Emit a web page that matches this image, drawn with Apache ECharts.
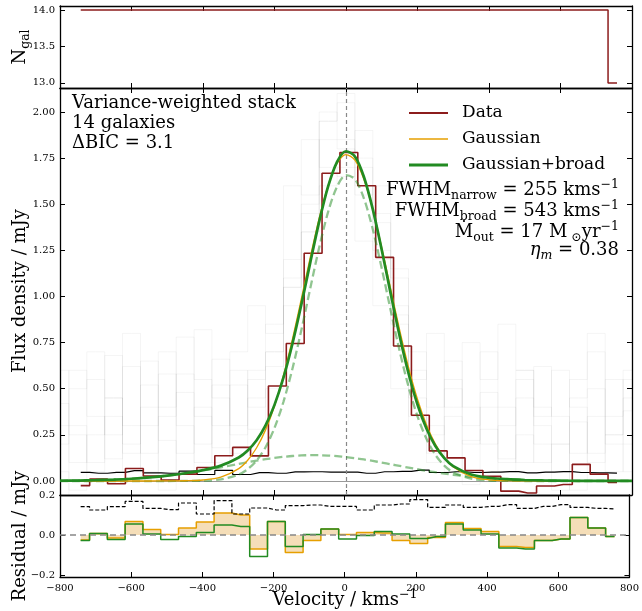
<!DOCTYPE html>
<html><head><meta charset="utf-8">
<script src="https://cdn.jsdelivr.net/npm/echarts@6/dist/echarts.min.js"></script>
<style>html,body{margin:0;padding:0;background:#fff}#c{width:642px;height:611px}</style>
</head><body><div id="c"></div><script>
// ---- data ----
const velocity = [-742,-692,-642,-592,-542,-492,-442,-392,-342,-292,-242,-192,-142,-92,-42,8,58,108,158,208,258,308,358,408,458,508,558,608,658,708,758];
const nGal = [14,14,14,14,14,14,14,14,14,14,14,14,14,14,14,14,14,14,14,14,14,14,14,14,14,14,14,14,14,14,13];
const flux = [-0.025,0.01,-0.015,0.068,0.027,0.005,0.037,0.073,0.137,0.182,0.136,0.515,0.745,1.234,1.668,1.78,1.60,1.212,0.732,0.356,0.163,0.125,0.057,0.025,-0.055,-0.065,-0.027,-0.019,0.09,0.037,-0.008];
const noise = [0.047,0.042,0.047,0.056,0.044,0.042,0.053,0.035,0.057,0.035,0.045,0.042,0.049,0.05,0.048,0.048,0.042,0.05,0.052,0.059,0.046,0.05,0.046,0.048,0.051,0.044,0.048,0.051,0.046,0.044,0.043];
const residErr = [0.142,0.125,0.142,0.168,0.133,0.127,0.16,0.105,0.172,0.105,0.135,0.125,0.147,0.15,0.143,0.143,0.125,0.15,0.155,0.177,0.138,0.15,0.138,0.143,0.152,0.133,0.143,0.152,0.138,0.133,0.13];
const residGauss = [-0.025,0.008,-0.015,0.068,0.027,0.002,0.035,0.065,0.11,0.10,-0.07,0.067,-0.087,-0.028,0.03,0.002,0.013,0.01,-0.028,-0.042,-0.012,0.063,0.033,0.018,-0.058,-0.062,-0.028,-0.02,0.088,0.035,-0.008];
const residBroad = [-0.028,0.008,-0.023,0.055,0.005,-0.023,-0.007,0.013,0.05,0.042,-0.107,0.067,-0.058,0.002,0.03,-0.02,-0.003,0.018,0.005,-0.017,-0.007,0.055,0.025,0.005,-0.065,-0.07,-0.028,-0.02,0.088,0.035,-0.008];

const modelVel = [-800,-750,-700,-650,-600,-550,-500,-450,-400,-350,-300,-275,-250,-225,-200,-175,-150,-125,-100,-75,-50,-25,0,25,50,75,100,125,150,175,200,225,250,275,300,350,400,450,500,550,600,650,700,750,800];
const gaussModel = [0,0,0,0,0,0,0.0002,0.0012,0.0054,0.0207,0.0669,0.1123,0.1803,0.277,0.4068,0.5715,0.7677,0.9865,1.2121,1.4247,1.6011,1.7211,1.7694,1.7397,1.6358,1.4711,1.2652,1.0408,0.8186,0.616,0.4432,0.305,0.2007,0.1264,0.0761,0.0241,0.0064,0.0014,0.0002,0,0,0,0,0,0];
const narrowModel = [0,0,0,0,0,0,0,0.0003,0.0018,0.0088,0.0347,0.0636,0.1107,0.1831,0.2875,0.4288,0.6072,0.8169,1.0435,1.2659,1.4583,1.5954,1.6575,1.6354,1.5323,1.3635,1.1522,0.9246,0.7047,0.51,0.3506,0.2288,0.1418,0.0835,0.0467,0.0125,0.0027,0.0005,0,0,0,0,0,0,0];
const broadModel = [0.0012,0.0024,0.0043,0.0074,0.0122,0.0193,0.029,0.0416,0.0569,0.0743,0.0926,0.1016,0.1101,0.118,0.125,0.1308,0.1354,0.1384,0.1399,0.1397,0.1379,0.1346,0.1298,0.1237,0.1165,0.1085,0.0998,0.0908,0.0816,0.0725,0.0637,0.0552,0.0474,0.0402,0.0337,0.0228,0.0148,0.0091,0.0054,0.003,0.0016,0.0008,0.0004,0.0002,0.0001];
const totalModel = [0.0012,0.0024,0.0043,0.0074,0.0122,0.0193,0.029,0.0419,0.0587,0.0831,0.1273,0.1652,0.2208,0.3011,0.4125,0.5596,0.7426,0.9553,1.1834,1.4056,1.5962,1.73,1.7873,1.7591,1.6488,1.472,1.252,1.0154,0.7863,0.5825,0.4143,0.284,0.1892,0.1237,0.0804,0.0353,0.0175,0.0096,0.0054,0.003,0.0016,0.0008,0.0004,0.0002,0.0001];

// faint individual spectra (estimated)
const specVel = [-800,-750,-700,-650,-600,-550,-500,-450,-400,-350,-300,-250,-200,-150,-100,-50,0,50,100,150,200,250,300,350,400,450,500,550,600,650,700,750,800];
const spec1 = [0.42,0.10,0.55,0.25,0.62,0.05,0.35,0.48,0.20,0.66,0.30,0.45,0.85,1.05,1.50,1.95,2.05,1.70,1.40,1.10,0.60,0.40,0.55,0.20,0.48,0.12,0.60,0.30,0.05,0.45,0.70,0.25,0.38];
const spec2 = [-0.10,0.30,0.05,0.68,0.15,0.40,-0.05,0.58,0.35,0.10,0.52,0.28,0.70,1.05,1.35,1.85,1.80,1.60,1.20,0.90,0.45,0.10,0.35,-0.02,0.28,0.10,0.45,0.20,-0.05,0.32,0.10,0.55,0.05];
const spec3 = [0.20,0.60,0.35,0.12,0.80,0.30,0.70,0.15,0.82,0.45,0.25,0.60,0.70,1.20,1.45,1.95,2.10,1.75,1.45,0.95,0.70,0.25,0.50,0.30,0.70,0.40,0.10,0.62,0.35,0.15,0.50,0.20,0.45];
const spec4 = [0.05,-0.05,0.25,0.45,0.05,0.52,0.22,0.05,0.40,0.18,0.60,0.40,0.50,0.95,1.35,1.60,1.70,1.30,0.95,0.50,0.25,0.30,0.05,0.22,0.40,0.05,0.25,0.10,0.20,-0.05,0.35,0.05,0.20];
const spec5 = [0.60,0.25,0.10,0.35,0.30,0.15,0.58,0.30,0.10,0.52,0.15,0.55,0.62,1.10,1.85,1.70,1.65,1.90,1.25,0.85,0.35,0.15,0.65,0.40,0.20,0.30,0.55,0.35,0.60,0.40,0.15,0.25,0.55];
const spec6 = [0.30,0.50,0.70,0.45,0.20,0.65,0.40,0.78,0.55,0.30,0.70,0.95,0.80,1.60,1.55,2.00,1.85,1.55,1.60,1.15,0.55,0.80,0.40,0.75,0.55,0.85,0.60,0.40,0.20,0.55,0.80,0.35,0.60];

// ticks
const velTicks = [-800,-600,-400,-200,0,200,400,600,800];
const nGalTicks = [13.0,13.5,14.0];
const fluxTicks = [0,0.25,0.5,0.75,1.0,1.25,1.5,1.75,2.0];
const residTicks = [-0.2,0,0.2];

// ---- chart ----
const FONT = 'DejaVu Serif';
const RED = '#8c1c1c', ORANGE = '#E69F00', GREEN = '#228B22';
const pairs = (xs, ys) => xs.map((x, i) => [x, ys[i]]);
const minus = s => String(s).replace('-', '\u2212');

function xAx(gridIndex, position, showLabel) {
  return {
    type: 'value', gridIndex, position, min: -800, max: 800, interval: 200,
    axisLine: {show: true, onZero: false, lineStyle: {color: '#000', width: 1.3}},
    axisTick: {show: true, inside: true, length: 5, lineStyle: {color: '#000', width: 1}, customValues: velTicks},
    axisLabel: {show: showLabel, customValues: velTicks, formatter: v => minus(v), fontFamily: FONT, fontSize: 10, color: '#000', margin: 6, showMinLabel: true, showMaxLabel: true},
    splitLine: {show: false}
  };
}
function yAx(gridIndex, position, min, max, ticks, fmt, showLabel) {
  return {
    type: 'value', gridIndex, position, min, max,
    axisLine: {show: true, onZero: false, lineStyle: {color: '#000', width: 1.3}},
    axisTick: {show: true, inside: true, length: 5, lineStyle: {color: '#000', width: 1}, customValues: ticks},
    axisLabel: {show: showLabel, customValues: ticks, formatter: fmt, fontFamily: FONT, fontSize: 10, color: '#000', margin: 5},
    splitLine: {show: false}
  };
}
const f1 = v => minus(v.toFixed(1));
const f2 = v => v.toFixed(2);

const specSeries = [spec1, spec2, spec3, spec4, spec5, spec6].map(s => ({
  type: 'line', step: 'middle', xAxisIndex: 2, yAxisIndex: 2, data: pairs(specVel, s),
  symbol: 'none', silent: true, z: 1, lineStyle: {color: 'rgba(0,0,0,0.045)', width: 1}
}));

const txt = (extra) => Object.assign({fontFamily: FONT, color: '#000', fontWeight: 'normal'}, extra);
const rich = {
  m: txt({fontSize: 18, lineHeight: 24}),
  i: txt({fontSize: 18, lineHeight: 24, fontStyle: 'italic'}),
  s: txt({fontSize: 12.5, lineHeight: 14, verticalAlign: 'bottom'}),
  si: txt({fontSize: 12.5, lineHeight: 14, verticalAlign: 'bottom', fontStyle: 'italic'}),
  p: txt({fontSize: 12.5, lineHeight: 14, verticalAlign: 'top'})
};
const grich = {
  m: {fontFamily: FONT, fill: '#000', fontSize: 18, lineHeight: 24},
  s: {fontFamily: FONT, fill: '#000', fontSize: 12.5, lineHeight: 14, verticalAlign: 'bottom'},
  p: {fontFamily: FONT, fill: '#000', fontSize: 12.5, lineHeight: 14, verticalAlign: 'top'}
};
const richTitle = {fontWeight: 'normal', fontFamily: FONT, color: '#000', rich};

const option = {
  animation: false,
  backgroundColor: '#fff',
  grid: [
    {left: 60, right: 10, top: 6, height: 82},
    {left: 60, right: 10, top: 88, height: 407},
    {left: 60, right: 10, top: 495, height: 82}
  ],
  xAxis: [xAx(0, 'bottom', false), xAx(0, 'top', false), xAx(1, 'bottom', false), xAx(1, 'top', false), xAx(2, 'bottom', true), xAx(2, 'top', false)],
  yAxis: [
    yAx(0, 'left', 12.93, 14.055, nGalTicks, f1, true), yAx(0, 'right', 12.93, 14.055, nGalTicks, f1, false),
    yAx(1, 'left', -0.076, 2.13, fluxTicks, f2, true), yAx(1, 'right', -0.076, 2.13, fluxTicks, f2, false),
    yAx(2, 'left', -0.21, 0.2, residTicks, f1, true), yAx(2, 'right', -0.21, 0.2, residTicks, f1, false)
  ],
  legend: {
    data: [
      {name: 'Data', icon: 'path://M0,0h39v1.8h-39z'},
      {name: 'Gaussian', icon: 'path://M0,0h39v1.3h-39z'},
      {name: 'Gaussian+broad', icon: 'path://M0,0h39v2.8h-39z'}
    ],
    orient: 'vertical', left: 409, top: 103, padding: 0, symbolKeepAspect: true,
    itemWidth: 39, itemHeight: 20, itemGap: 6, selectedMode: false,
    textStyle: {fontFamily: FONT, fontSize: 17, color: '#000', padding: [0, 0, 0, 9], lineHeight: 20}
  },
  title: [
    {left: 72, top: 93, padding: 0, text: 'Variance-weighted stack\n14 galaxies\n\u0394BIC = 3.1', textStyle: txt({fontSize: 18, lineHeight: 20})},
    {right: 23, top: 178, padding: 0, text: '{m|FWHM}{s|narrow}{m| = 255 kms}{p|\u22121}', textStyle: richTitle},
    {right: 23, top: 199, padding: 0, text: '{m|FWHM}{s|broad}{m| = 543 kms}{p|\u22121}', textStyle: richTitle},
    {right: 23, top: 220, padding: 0, text: '{m|M\u0307}{s|out}{m| = 17 M}{s| \u2299}{m|yr}{p|\u22121}', textStyle: richTitle},
    {right: 23, top: 238, padding: 0, text: '{i|\u03B7}{si|m}{m| = 0.38}', textStyle: richTitle}
  ],
  graphic: [
    {type: 'text', x: 20, y: 47, rotation: Math.PI / 2, style: {text: '{m|N}{s|gal}', rich: grich, align: 'center', verticalAlign: 'middle', textAlign: 'center', textVerticalAlign: 'middle'}},
    {type: 'text', x: 20, y: 291, rotation: Math.PI / 2, style: {text: 'Flux density / mJy', fontFamily: FONT, fontSize: 18, fill: '#000', align: 'center', verticalAlign: 'middle', textAlign: 'center', textVerticalAlign: 'middle'}},
    {type: 'text', x: 20, y: 536, rotation: Math.PI / 2, style: {text: 'Residual / mJy', fontFamily: FONT, fontSize: 18, fill: '#000', align: 'center', verticalAlign: 'middle', textAlign: 'center', textVerticalAlign: 'middle'}},
    {type: 'text', x: 345, y: 600, style: {text: '{m|Velocity / kms}{p|\u22121}', rich: grich, align: 'center', verticalAlign: 'middle', textAlign: 'center', textVerticalAlign: 'middle'}}
  ],
  series: [
    {type: 'line', step: 'middle', xAxisIndex: 0, yAxisIndex: 0, data: pairs(velocity, nGal), symbol: 'none', lineStyle: {color: RED, width: 1.5}},
    ...specSeries,
    {type: 'line', step: 'middle', xAxisIndex: 2, yAxisIndex: 2, data: pairs(velocity, noise), symbol: 'none', z: 3, lineStyle: {color: '#000', width: 1.2},
      markLine: {silent: true, symbol: 'none', label: {show: false}, animation: false, data: [
        {yAxis: 0, lineStyle: {color: '#999', width: 1, type: 'solid'}},
        {xAxis: 0, lineStyle: {color: '#888', width: 1.2, type: [4, 3]}}
      ]}},
    {name: 'Data', type: 'line', step: 'middle', xAxisIndex: 2, yAxisIndex: 2, data: pairs(velocity, flux), symbol: 'none', z: 4, itemStyle: {color: RED}, lineStyle: {color: RED, width: 1.6}},
    {type: 'line', smooth: 0.3, xAxisIndex: 2, yAxisIndex: 2, data: pairs(modelVel, narrowModel), symbol: 'none', z: 5, lineStyle: {color: 'rgba(34,139,34,0.5)', width: 2.3, type: [8, 4]}},
    {type: 'line', smooth: 0.3, xAxisIndex: 2, yAxisIndex: 2, data: pairs(modelVel, broadModel), symbol: 'none', z: 5, lineStyle: {color: 'rgba(34,139,34,0.5)', width: 2.3, type: [8, 4]}},
    {name: 'Gaussian', type: 'line', smooth: 0.3, xAxisIndex: 2, yAxisIndex: 2, data: pairs(modelVel, gaussModel), symbol: 'none', z: 6, itemStyle: {color: ORANGE}, lineStyle: {color: ORANGE, width: 1.3}},
    {name: 'Gaussian+broad', type: 'line', smooth: 0.3, xAxisIndex: 2, yAxisIndex: 2, data: pairs(modelVel, totalModel), symbol: 'none', z: 7, itemStyle: {color: GREEN}, lineStyle: {color: GREEN, width: 2.7}},
    {type: 'line', step: 'middle', xAxisIndex: 4, yAxisIndex: 4, data: pairs(velocity, residGauss), symbol: 'none', z: 2, lineStyle: {color: ORANGE, width: 1.5}, areaStyle: {color: '#f5deb8', opacity: 1}},
    {type: 'line', step: 'middle', xAxisIndex: 4, yAxisIndex: 4, data: pairs(velocity, residBroad), symbol: 'none', z: 3, lineStyle: {color: GREEN, width: 1.5}},
    {type: 'line', step: 'middle', xAxisIndex: 4, yAxisIndex: 4, data: pairs(velocity, residErr), symbol: 'none', z: 4, lineStyle: {color: '#000', width: 1.2, type: [4, 2]},
      markLine: {silent: true, symbol: 'none', label: {show: false}, animation: false, data: [
        {yAxis: 0, lineStyle: {color: '#888', width: 1.5, type: [6, 4]}}
      ]}}
  ]
};
const chart = echarts.init(document.getElementById('c'));
chart.setOption(option);
</script></body></html>
